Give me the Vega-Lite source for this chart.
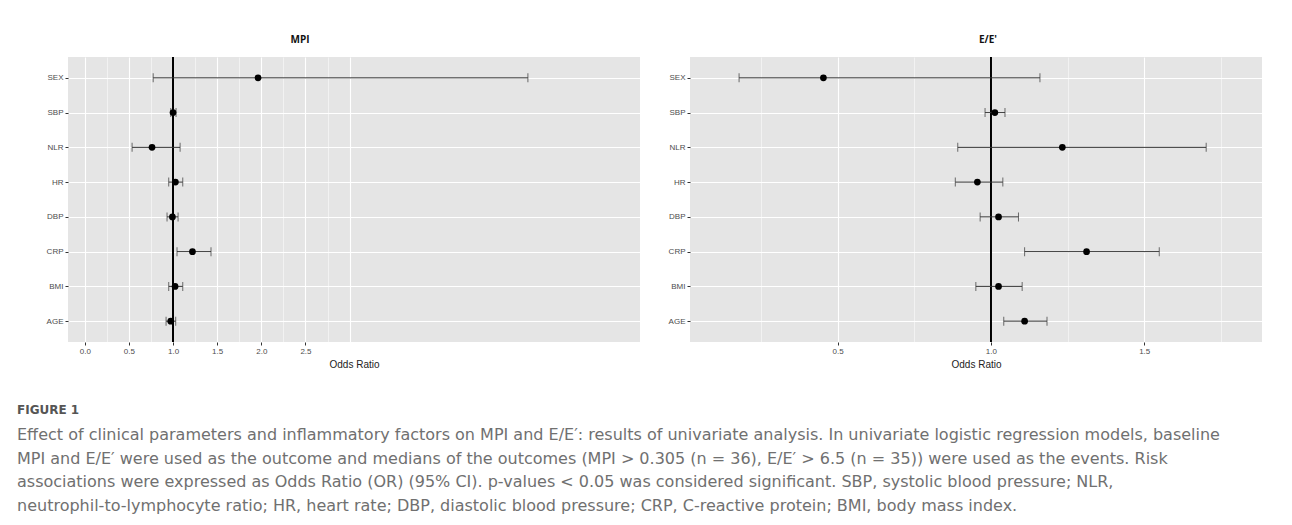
{
  "$schema": "https://vega.github.io/schema/vega-lite/v6.json",
  "padding": {"left": 17, "top": 34, "right": 0, "bottom": 0},
  "background": "white",
  "spacing": 28,
  "datasets": {
    "mpi": [
      {"var": "SEX", "or": 1.963, "lo": 0.775, "hi": 5.02},
      {"var": "SBP", "or": 1.0, "lo": 0.974, "hi": 1.034},
      {"var": "NLR", "or": 0.762, "lo": 0.536, "hi": 1.08},
      {"var": "HR", "or": 1.027, "lo": 0.951, "hi": 1.11},
      {"var": "DBP", "or": 0.993, "lo": 0.932, "hi": 1.057},
      {"var": "CRP", "or": 1.22, "lo": 1.045, "hi": 1.43},
      {"var": "BMI", "or": 1.023, "lo": 0.951, "hi": 1.11},
      {"var": "AGE", "or": 0.974, "lo": 0.921, "hi": 1.03}
    ],
    "ee": [
      {"var": "SEX", "or": 0.454, "lo": 0.179, "hi": 1.16},
      {"var": "SBP", "or": 1.013, "lo": 0.981, "hi": 1.046},
      {"var": "NLR", "or": 1.233, "lo": 0.892, "hi": 1.702},
      {"var": "HR", "or": 0.956, "lo": 0.884, "hi": 1.039},
      {"var": "DBP", "or": 1.025, "lo": 0.965, "hi": 1.09},
      {"var": "CRP", "or": 1.312, "lo": 1.11, "hi": 1.549},
      {"var": "BMI", "or": 1.025, "lo": 0.951, "hi": 1.102},
      {"var": "AGE", "or": 1.11, "lo": 1.042, "hi": 1.183}
    ]
  },
  "title": {
    "text": "FIGURE 1",
    "subtitle": [
      "Effect of clinical parameters and inflammatory factors on MPI and E/E′: results of univariate analysis. In univariate logistic regression models, baseline",
      "MPI and E/E′ were used as the outcome and medians of the outcomes (MPI > 0.305 (n = 36), E/E′ > 6.5 (n = 35)) were used as the events. Risk",
      "associations were expressed as Odds Ratio (OR) (95% CI). p-values < 0.05 was considered significant. SBP, systolic blood pressure; NLR,",
      "neutrophil-to-lymphocyte ratio; HR, heart rate; DBP, diastolic blood pressure; CRP, C-reactive protein; BMI, body mass index."
    ],
    "orient": "bottom",
    "anchor": "start",
    "frame": "bounds",
    "offset": 36,
    "font": "DejaVu Sans",
    "fontSize": 12,
    "fontWeight": "bold",
    "color": "#555555",
    "subtitleFont": "DejaVu Sans",
    "subtitleFontSize": 16,
    "subtitleColor": "#707070",
    "subtitleLineHeight": 23.6,
    "subtitlePadding": 10
  },
  "hconcat": [
    {
      "width": 572,
      "height": 285,
      "title": {"text": "MPI", "dx": -54, "offset": 12},
      "data": {"name": "mpi"},
      "resolve": {"axis": {"x": "independent"}},
      "layer": [
        {
          "mark": {"type": "rule", "color": "black", "strokeWidth": 1},
          "encoding": {
            "x": {"datum": 1, "type": "quantitative",
              "scale": {"domain": [-0.19, 6.29], "nice": false, "zero": false},
              "axis": {"orient": "bottom", "values": [0.25, 0.75, 1.25, 1.75, 2.25, 2.75], "grid": true, "gridWidth": 0.5, "labels": false, "ticks": false, "domain": false, "title": null}}
          }
        },
        {
          "mark": {"type": "rule", "color": "#333333", "strokeWidth": 1},
          "encoding": {
            "x": {"field": "lo", "type": "quantitative",
              "axis": {"orient": "bottom", "values": [0, 0.5, 1, 1.5, 2, 2.5, 3], "grid": true, "gridWidth": 1.1, "labels": false, "ticks": false, "domain": false, "title": null}},
            "x2": {"field": "hi"},
            "y": {"field": "var", "type": "nominal", "sort": ["SEX", "SBP", "NLR", "HR", "DBP", "CRP", "BMI", "AGE"], "scale": {"type": "point", "padding": 0.6}, "axis": {"title": null, "grid": true, "gridWidth": 1.1, "minExtent": 51}}
          }
        },
        {
          "mark": {"type": "tick", "color": "#333333", "thickness": 1, "size": 9},
          "encoding": {
            "x": {"field": "lo", "type": "quantitative",
              "axis": {"orient": "bottom", "values": [0, 0.5, 1, 1.5, 2, 2.5], "format": ".1f", "grid": false, "title": "Odds Ratio"}},
            "y": {"field": "var", "type": "nominal", "sort": ["SEX", "SBP", "NLR", "HR", "DBP", "CRP", "BMI", "AGE"], "axis": {"title": null}}
          }
        },
        {
          "mark": {"type": "tick", "color": "#333333", "thickness": 1, "size": 9},
          "encoding": {
            "x": {"field": "hi", "type": "quantitative", "axis": null},
            "y": {"field": "var", "type": "nominal", "sort": ["SEX", "SBP", "NLR", "HR", "DBP", "CRP", "BMI", "AGE"], "axis": {"title": null}}
          }
        },
        {
          "mark": {"type": "circle", "color": "black", "size": 45, "opacity": 1},
          "encoding": {
            "x": {"field": "or", "type": "quantitative", "axis": null},
            "y": {"field": "var", "type": "nominal", "sort": ["SEX", "SBP", "NLR", "HR", "DBP", "CRP", "BMI", "AGE"], "axis": {"title": null}}
          }
        }
      ]
    },
    {
      "width": 572,
      "height": 285,
      "title": {"text": "E/E'", "dx": 12, "offset": 12},
      "data": {"name": "ee"},
      "resolve": {"axis": {"x": "independent"}},
      "layer": [
        {
          "mark": {"type": "rule", "color": "black", "strokeWidth": 1},
          "encoding": {
            "x": {"datum": 1, "type": "quantitative",
              "scale": {"domain": [0.019, 1.884], "nice": false, "zero": false},
              "axis": {"orient": "bottom", "values": [0.25, 0.75, 1.25, 1.75], "grid": true, "gridWidth": 0.5, "labels": false, "ticks": false, "domain": false, "title": null}}
          }
        },
        {
          "mark": {"type": "rule", "color": "#333333", "strokeWidth": 1},
          "encoding": {
            "x": {"field": "lo", "type": "quantitative",
              "axis": {"orient": "bottom", "values": [0.5, 1, 1.5], "grid": true, "gridWidth": 1.1, "labels": false, "ticks": false, "domain": false, "title": null}},
            "x2": {"field": "hi"},
            "y": {"field": "var", "type": "nominal", "sort": ["SEX", "SBP", "NLR", "HR", "DBP", "CRP", "BMI", "AGE"], "scale": {"type": "point", "padding": 0.6}, "axis": {"title": null, "grid": true, "gridWidth": 1.1}}
          }
        },
        {
          "mark": {"type": "tick", "color": "#333333", "thickness": 1, "size": 9},
          "encoding": {
            "x": {"field": "lo", "type": "quantitative",
              "axis": {"orient": "bottom", "values": [0.5, 1, 1.5], "format": ".1f", "grid": false, "title": "Odds Ratio"}},
            "y": {"field": "var", "type": "nominal", "sort": ["SEX", "SBP", "NLR", "HR", "DBP", "CRP", "BMI", "AGE"], "axis": {"title": null}}
          }
        },
        {
          "mark": {"type": "tick", "color": "#333333", "thickness": 1, "size": 9},
          "encoding": {
            "x": {"field": "hi", "type": "quantitative", "axis": null},
            "y": {"field": "var", "type": "nominal", "sort": ["SEX", "SBP", "NLR", "HR", "DBP", "CRP", "BMI", "AGE"], "axis": {"title": null}}
          }
        },
        {
          "mark": {"type": "circle", "color": "black", "size": 45, "opacity": 1},
          "encoding": {
            "x": {"field": "or", "type": "quantitative", "axis": null},
            "y": {"field": "var", "type": "nominal", "sort": ["SEX", "SBP", "NLR", "HR", "DBP", "CRP", "BMI", "AGE"], "axis": {"title": null}}
          }
        }
      ]
    }
  ],
  "config": {
    "view": {"fill": "#e5e5e5", "stroke": null},
    "axis": {
      "labelFont": "Liberation Sans",
      "labelFontSize": 8,
      "labelColor": "#4d4d4d",
      "tickColor": "#333333",
      "tickSize": 3,
      "labelPadding": 2,
      "domain": false,
      "gridColor": "white",
      "titleFont": "Liberation Sans",
      "titleFontSize": 10,
      "titleFontWeight": "normal",
      "titleColor": "#222222",
      "titlePadding": 4
    },
    "title": {"font": "Open Sans", "fontSize": 10, "fontWeight": "bold", "color": "#111111"}
  }
}
